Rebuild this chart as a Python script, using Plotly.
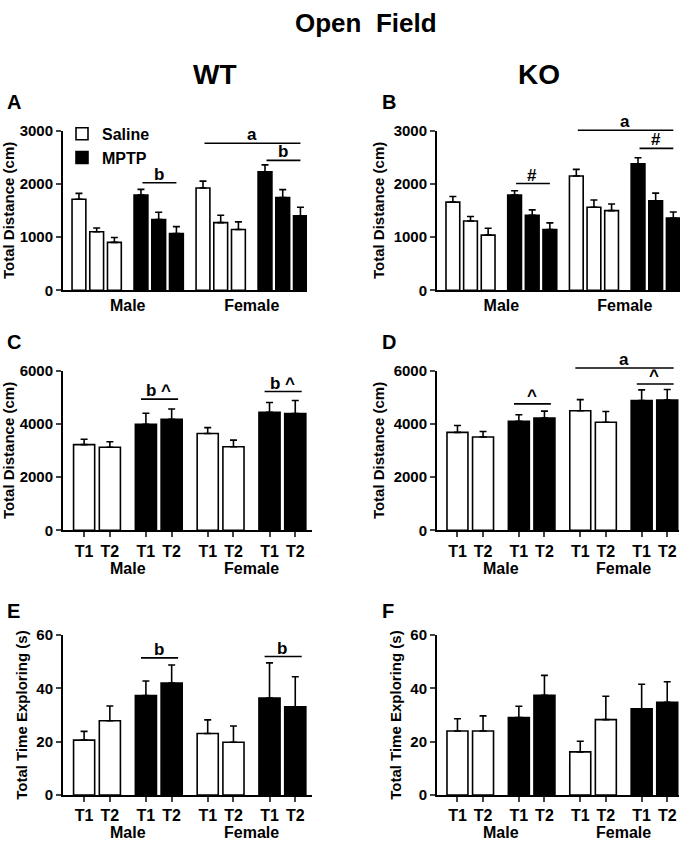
import plotly.graph_objects as go

W, H = 689, 850
FONT = "Liberation Sans, Arial, sans-serif"

# ---- data (mean and SEM) ----
# panels A / B : three sessions per group, order = male, female
A_SAL = [1710, 1100, 900, 1920, 1270, 1140]
A_SAL_SEM = [110, 70, 90, 130, 140, 145]
A_MPTP = [1790, 1330, 1065, 2225, 1740, 1400]
A_MPTP_SEM = [105, 135, 130, 130, 150, 160]

B_SAL = [1655, 1300, 1035, 2145, 1560, 1495]
B_SAL_SEM = [105, 85, 130, 125, 135, 125]
B_MPTP = [1790, 1410, 1140, 2375, 1680, 1355]
B_MPTP_SEM = [80, 100, 125, 115, 145, 115]

# panels C-F : T1 / T2, order = male, female
C_SAL = [3220, 3120, 3640, 3140]
C_SAL_SEM = [200, 210, 220, 250]
C_MPTP = [3985, 4170, 4430, 4390]
C_MPTP_SEM = [415, 390, 370, 490]

D_SAL = [3680, 3505, 4490, 4060]
D_SAL_SEM = [260, 210, 420, 405]
D_MPTP = [4100, 4220, 4880, 4895]
D_MPTP_SEM = [240, 260, 395, 395]

E_SAL = [20.6, 27.9, 23.1, 19.8]
E_SAL_SEM = [3.3, 5.5, 5.1, 6.1]
E_MPTP = [37.3, 42.0, 36.4, 33.1]
E_MPTP_SEM = [5.5, 6.8, 13.2, 11.3]

F_SAL = [24.0, 24.0, 16.2, 28.3]
F_SAL_SEM = [4.6, 5.7, 4.0, 8.8]
F_MPTP = [29.1, 37.4, 32.4, 34.8]
F_MPTP_SEM = [4.2, 7.5, 9.2, 7.7]

SEXES = ["Male", "Female"]
TRIALS = ["T1", "T2"]

# significance bars: (first bar, last bar, height, label); bars numbered left to right
A_SIG = [(3, 5, 2020, "b"), (9, 11, 2440, "b"), (6, 11, 2760, "a")]
B_SIG = [(3, 5, 2005, "#"), (9, 11, 2665, "#"), (6, 11, 3005, "a")]
C_SIG = [(2, 3, 4930, "b ^"), (6, 7, 5215, "b ^")]
D_SIG = [(2, 3, 4750, "^"), (6, 7, 5500, "^"), (4, 7, 6100, "a")]
E_SIG = [(2, 3, 51.5, "b"), (6, 7, 52.0, "b")]
F_SIG = []


def dom_x(p0, p1):
    return [p0 / W, p1 / W]


def dom_y(p_top, p_bot):
    return [1 - p_bot / H, 1 - p_top / H]


# letter, data, sig, bars per block, plot box in px, x range, y max, tick step, y title
panels = [
    ("A", A_SAL, A_SAL_SEM, A_MPTP, A_MPTP_SEM, A_SIG, 3, (63, 307, 124, 287), [-0.9, 12.87], 3000, 1000, "Total Distance (cm)"),
    ("B", B_SAL, B_SAL_SEM, B_MPTP, B_MPTP_SEM, B_SIG, 3, (437, 680, 124, 287), [-0.9, 12.88], 3000, 1000, "Total Distance (cm)"),
    ("C", C_SAL, C_SAL_SEM, C_MPTP, C_MPTP_SEM, C_SIG, 2, (63, 312, 369, 532), [-0.82, 8.85], 6000, 2000, "Total Distance (cm)"),
    ("D", D_SAL, D_SAL_SEM, D_MPTP, D_MPTP_SEM, D_SIG, 2, (437, 679, 369, 532), [-0.8, 8.66], 6000, 2000, "Total Distance (cm)"),
    ("E", E_SAL, E_SAL_SEM, E_MPTP, E_MPTP_SEM, E_SIG, 2, (63, 312, 639, 802), [-0.82, 8.85], 60, 20, "Total Time Exploring (s)"),
    ("F", F_SAL, F_SAL_SEM, F_MPTP, F_MPTP_SEM, F_SIG, 2, (437, 679, 639, 802), [-0.8, 8.66], 60, 20, "Total Time Exploring (s)"),
]

fig = go.Figure()
bold = dict(family=FONT, color="black", weight="bold")

for k, (letter, sal, sal_sem, mptp, mptp_sem, sig, n, box, xr, ymax, dtick, ytitle) in enumerate(panels):
    ax = "" if k == 0 else str(k + 1)
    xref, yref = "x" + ax, "y" + ax
    gap = 1.5 if n == 3 else 1.4
    # bar positions: saline block then mptp block, for male then female
    pos_sal, pos_mptp, allpos = [], [], []
    for s in range(2):
        base = s * 2 * (n - 1 + gap)
        ps = [base + i for i in range(n)]
        pm = [base + (n - 1 + gap) + i for i in range(n)]
        pos_sal += ps
        pos_mptp += pm
        allpos += ps + pm
    width = 0.78 if n == 3 else 0.82

    for name, vals, sem, pos, fill in [("Saline", sal, sal_sem, pos_sal, "white"),
                                       ("MPTP", mptp, mptp_sem, pos_mptp, "black")]:
        fig.add_trace(go.Bar(
            x=pos, y=vals, width=width, name=name,
            marker=dict(color=fill, line=dict(color="black", width=1.6)),
            error_y=dict(type="data", symmetric=False, array=sem, arrayminus=[0] * len(sem),
                         color="black", thickness=1.6, width=3.5),
            showlegend=(k == 0), xaxis=xref, yaxis=yref,
        ))

    x0p, x1p, ytop, ybot = box
    if n == 3:
        centers = [(allpos[s * 2 * n] + allpos[s * 2 * n + 2 * n - 1]) / 2 for s in range(2)]
        xtick = dict(tickvals=centers, ticktext=SEXES, ticks="")
    else:
        xtick = dict(tickvals=allpos, ticktext=TRIALS * 4, ticks="outside", ticklen=5, tickwidth=1.6)
        for s in range(2):
            fig.add_annotation(x=(allpos[s * 4] + allpos[s * 4 + 3]) / 2, y=0,
                               xref=xref, yref=yref + " domain", yshift=-38,
                               text=SEXES[s], showarrow=False, yanchor="middle",
                               font=dict(size=16, **bold))

    fig.update_layout({
        "xaxis" + ax: dict(domain=dom_x(x0p, x1p), range=xr, anchor=yref, showline=True,
                           linewidth=2, linecolor="black", showgrid=False, zeroline=False,
                           tickfont=dict(size=16, **bold), ticklabelstandoff=0, **xtick),
        "yaxis" + ax: dict(domain=dom_y(ytop, ybot), range=[0, ymax], anchor=xref, showline=True,
                           linewidth=2, linecolor="black", showgrid=False, zeroline=False,
                           ticks="outside", ticklen=5, tickwidth=2, dtick=dtick, tick0=0,
                           tickfont=dict(size=15, **bold),
                           title=dict(text=ytitle, font=dict(size=15, **bold), standoff=5)),
    })

    # significance lines: drawn as head-less arrows so they may sit above the axis top
    pad = 0 if n == 3 else 0.25
    for i0, i1, yv, lab in sig:
        xa, xb = allpos[i0] - pad, allpos[i1] + pad
        yd = yv / ymax
        fig.add_annotation(x=xb, y=yd, ax=xa, ay=0, xref=xref, yref=yref + " domain",
                           axref=xref, ayref="pixel",
                           text="", showarrow=True, arrowhead=0, arrowwidth=1.6, arrowcolor="black",
                           standoff=0, startstandoff=0)
        fig.add_annotation(x=(xa + xb) / 2, y=yd, xref=xref, yref=yref + " domain", text=lab,
                           showarrow=False, yanchor="bottom", yshift=-3, font=dict(size=17, **bold))

    # panel letter
    fig.add_annotation(x=(5 if k % 2 == 0 else 380) / W, y=1 - (95 if k < 2 else 340 if k < 4 else 614) / H,
                       xref="paper", yref="paper", xanchor="left", yanchor="middle",
                       text=letter, showarrow=False, font=dict(size=20, **bold))

fig.add_annotation(x=366 / W, y=1 - 14 / H, xref="paper", yref="paper", text="Open&nbsp;&nbsp;Field",
                   showarrow=False, yanchor="middle", font=dict(size=26, **bold))
for lab, xc in [("WT", 191), ("KO", 562)]:
    fig.add_annotation(x=xc / W, y=1 - 67 / H, xref="paper", yref="paper", text=lab,
                       showarrow=False, yanchor="middle", font=dict(size=28, **bold))

fig.update_layout(
    width=W, height=H, margin=dict(l=0, r=0, t=0, b=0),
    paper_bgcolor="white", plot_bgcolor="white", barmode="overlay",
    font=dict(family=FONT, color="black"),
    legend=dict(x=62 / W, y=1 - 110 / H, xanchor="left", yanchor="top", bgcolor="rgba(0,0,0,0)",
                font=dict(size=16, **bold), tracegroupgap=0, itemwidth=30),
)

fig.write_html("out.html", config={"displayModeBar": False},
               post_script="document.body.style.margin='0';document.body.style.overflow='hidden';"
                           "document.documentElement.style.overflow='hidden';")
